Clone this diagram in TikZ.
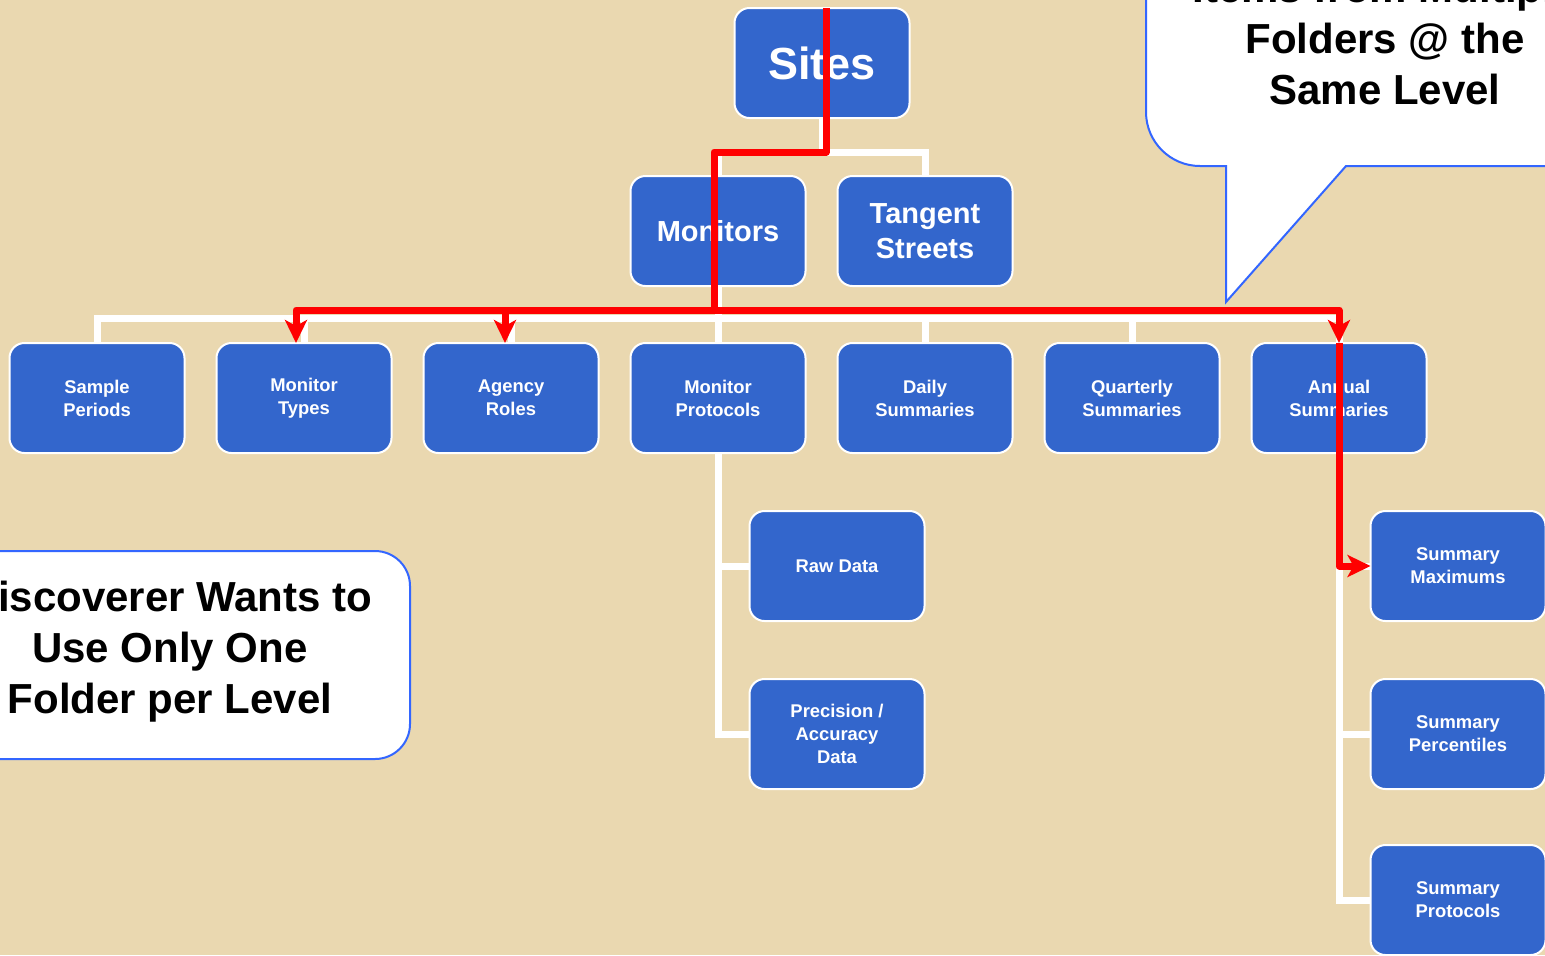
\documentclass[tikz,border=0pt]{standalone}
\usepackage{fontspec}
\setmainfont{Liberation Sans}
\usetikzlibrary{positioning,arrows.meta,calc}

\definecolor{parchment}{RGB}{234,216,176}
\definecolor{boxblue}{RGB}{51,102,204}
\definecolor{calloutblue}{RGB}{51,102,255}

\tikzset{
  folder/.style={draw=white, line width=1pt, fill=boxblue, rounded corners=7.5pt,
    minimum width=87.5pt, minimum height=55pt, inner sep=2pt, outer sep=0pt,
    text=white, align=center, font=\bfseries\fontsize{9.2}{11.5}\selectfont},
  bigfolder/.style={folder, font=\bfseries\fontsize{14.5}{17.5}\selectfont},
  tree/.style={draw=white, line width=3.5pt},
  redpath/.style={draw=red, line width=3.5pt, line join=round},
  redarrow/.style={redpath, -{Stealth[length=11.5pt,width=11pt,inset=3pt]}},
  callout/.style={draw=calloutblue, line width=1pt, fill=white},
  callouttext/.style={align=center, font=\bfseries\fontsize{21}{25.5}\selectfont}
}

\begin{document}
\begin{tikzpicture}
	\useasboundingbox (0,0) rectangle (772.5pt,-477.5pt);
	\clip (0,0) rectangle (772.5pt,-477.5pt);
	\fill[parchment] (0,0) rectangle (772.5pt,-477.5pt);

	% folders
	\node[folder, font=\bfseries\fontsize{22.5}{26}\selectfont] (sites) at (411pt,-31.5pt) {Sites};
	\node[bigfolder, below=29pt of sites, xshift=-52pt] (monitors) {Monitors};
	\node[bigfolder, right=16pt of monitors] (tangent) {Tangent\\Streets};

	\node[folder, below=28.5pt of monitors] (protocols) {Monitor\\Protocols};
	\node[folder, left=16pt of protocols] (agency) {Agency\\Roles};
	\node[folder, left=16pt of agency] (types) {Monitor\\Types};
	\node[folder, left=16pt of types] (sample) {Sample\\Periods};
	\node[folder, right=16pt of protocols] (daily) {Daily\\Summaries};
	\node[folder, right=16pt of daily] (quarterly) {Quarterly\\Summaries};
	\node[folder, right=16pt of quarterly] (annual) {Annual\\Summaries};

	\node[folder, below=29pt of protocols, xshift=59.5pt] (raw) {Raw Data};
	\node[folder, below=29pt of raw] (precision) {Precision /\\Accuracy\\Data};
	\node[folder, below=29pt of annual, xshift=59.5pt] (maxs) {Summary\\Maximums};
	\node[folder, below=29pt of maxs] (pctl) {Summary\\Percentiles};
	\node[folder, below=28pt of pctl] (sprot) {Summary\\Protocols};

	% tree lines
	\draw[tree] (sites.south) -- ++(0,-17pt) coordinate (j1) -| (monitors.north);
	\draw[tree] (j1) -| (tangent.north);
	\draw[tree] (monitors.south) -- ++(0,-16pt) coordinate (j2);
	\foreach \f in {sample,types,agency,protocols,daily,quarterly,annual}
		\draw[tree] (j2) -| (\f.north);
	\draw[tree] (protocols.south) |- (raw.west);
	\draw[tree] (protocols.south) |- (precision.west);
	\foreach \f in {maxs,pctl,sprot}
		\draw[tree] (annual.south) |- (\f.west);

	% red route
	\draw[redpath] ([xshift=2pt]sites.north) -- ([xshift=2pt]j1) -| ([xshift=-2pt,yshift=4pt]j2) coordinate (rmid);
	\draw[redarrow] (rmid) -| ([xshift=-4pt]types.north);
	\draw[redarrow] (rmid) -| ([xshift=-3pt]agency.north);
	\draw[redarrow] (rmid) -| (annual.north);
	\draw[redarrow] (annual.north) |- (maxs.west);

	% callouts
	\draw[callout] (800pt,10pt) -- (573pt,10pt) -- (573pt,-56pt)
		arc[start angle=180, end angle=270, radius=27pt] -- (613pt,-83pt)
		-- (613pt,-151pt) -- (673pt,-83pt) -- (800pt,-83pt) -- cycle;
	\node[callouttext] (multitext) at (692.5pt,-19pt) {Items from Multiple\\Folders @ the\\Same Level};

	\draw[callout, rounded corners=17.5pt] (-30pt,-275.5pt) rectangle (205pt,-379.5pt);
	\node[callouttext] (onetext) at (85pt,-326pt) {Discoverer Wants to\\Use Only One\\Folder per Level};
\end{tikzpicture}
\end{document}
